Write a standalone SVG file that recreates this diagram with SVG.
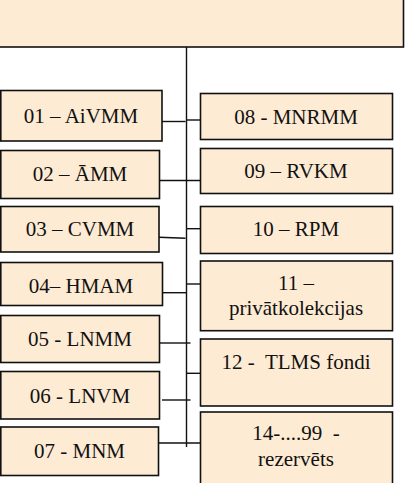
<svg xmlns="http://www.w3.org/2000/svg" width="414" height="483" viewBox="0 0 414 483">
<style>
.box{fill:#FEEBD4;stroke:#111;stroke-width:1.6}
.t{font-family:"Liberation Serif","Times New Roman",serif;font-size:21px;fill:#111;text-anchor:middle}
.c{stroke:#111;stroke-width:1.4;fill:none}
</style>
<rect width="414" height="483" fill="#fff"/>
<g id="root"><rect class="box" x="-5" y="-5" width="408.5" height="52"/></g>
<g id="connectors">
<line class="c" x1="186.5" y1="47" x2="186.5" y2="447" stroke-width="1.6"/>
<line class="c" x1="162" y1="121.5" x2="185.5" y2="121.5"/>
<line class="c" x1="187" y1="120" x2="200.5" y2="120"/>
<line class="c" x1="159.5" y1="180.5" x2="200.5" y2="180.5"/>
<line class="c" x1="159" y1="237.3" x2="185.5" y2="238.3"/>
<line class="c" x1="187" y1="228.7" x2="200.5" y2="228.7"/>
<line class="c" x1="162.5" y1="292.7" x2="186.5" y2="292.7"/>
<line class="c" x1="187" y1="284" x2="200.5" y2="284"/>
<line class="c" x1="159.5" y1="343" x2="190.5" y2="343"/>
<line class="c" x1="187" y1="373.3" x2="200.5" y2="373.3"/>
<line class="c" x1="162" y1="400" x2="190.5" y2="400"/>
<line class="c" x1="158.5" y1="443" x2="200.5" y2="443"/>
</g>
<g id="n01"><rect class="box" x="0.8" y="90.5" width="161.2" height="50.5"/><text class="t" x="81" y="123">01 – AiVMM</text></g>
<g id="n02"><rect class="box" x="0.8" y="150.5" width="158.7" height="48"/><text class="t" x="80" y="181">02 – ĀMM</text></g>
<g id="n03"><rect class="box" x="0.8" y="206.5" width="158.2" height="45.5"/><text class="t" x="80" y="236">03 – CVMM</text></g>
<g id="n04"><rect class="box" x="0.8" y="262.5" width="161.7" height="43"/><text class="t" x="81" y="292.5">04– HMAM</text></g>
<g id="n05"><rect class="box" x="0.8" y="315.5" width="158.7" height="47"/><text class="t" x="80" y="346">05 - LNMM</text></g>
<g id="n06"><rect class="box" x="0.8" y="371.5" width="158.7" height="47.5"/><text class="t" x="80" y="402.5">06 - LNVM</text></g>
<g id="n07"><rect class="box" x="0.8" y="427" width="157.7" height="48.5"/><text class="t" x="79.5" y="457.5">07 - MNM</text></g>
<g id="n08"><rect class="box" x="200.5" y="93.5" width="192" height="46"/><text class="t" x="296" y="123.5">08 - MNRMM</text></g>
<g id="n09"><rect class="box" x="200.5" y="148.5" width="192" height="45"/><text class="t" x="296" y="177.5">09 – RVKM</text></g>
<g id="n10"><rect class="box" x="200.5" y="206.5" width="192" height="47"/><text class="t" x="296" y="236">10 – RPM</text></g>
<g id="n11"><rect class="box" x="200.5" y="261" width="192" height="69.7"/><text class="t" x="296" y="289.5">11 –</text><text class="t" x="296" y="314.5">privātkolekcijas</text></g>
<g id="n12"><rect class="box" x="200.5" y="339" width="192" height="67"/><text class="t" x="296" y="369" xml:space="preserve">12 -  TLMS fondi</text></g>
<g id="n14"><rect class="box" x="200.5" y="412" width="192" height="80"/><text class="t" x="296" y="440" xml:space="preserve">14-....99  -</text><text class="t" x="296" y="466">rezervēts</text></g>
</svg>
